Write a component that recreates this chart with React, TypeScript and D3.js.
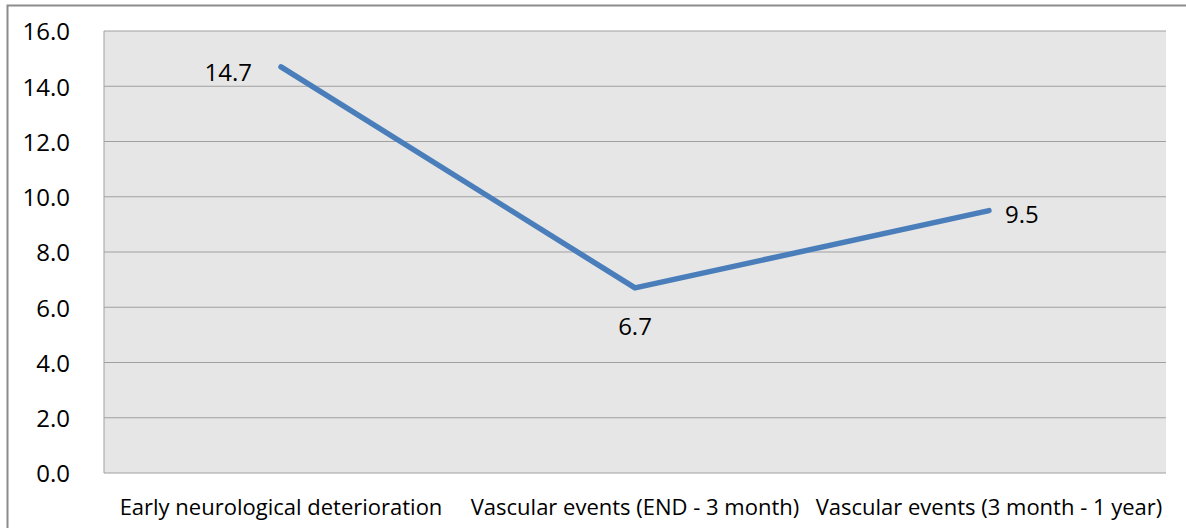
import React from "react";
import * as d3 from "d3";

const categories = [
  "Early neurological deterioration",
  "Vascular events (END - 3 month)",
  "Vascular events (3 month - 1 year)",
];
const values = [14.7, 6.7, 9.5];
const yTicks = [0, 2, 4, 6, 8, 10, 12, 14, 16];

const W = 1186;
const H = 528;
const M = { left: 104, top: 31, right: 1166, bottom: 473 };
const FONT = "'Open Sans', 'Noto Sans', sans-serif";

export default function App() {
  const x = d3
    .scaleBand<string>()
    .domain(categories)
    .range([M.left, M.right]);
  const y = d3.scaleLinear().domain([0, 16]).range([M.bottom, M.top]);
  const cx = (c: string) => (x(c) as number) + x.bandwidth() / 2;
  const line = d3
    .line<number>()
    .x((_, i) => cx(categories[i]))
    .y((d) => y(d));

  return (
    <svg
      width={W}
      height={H}
      style={{ position: "absolute", left: 0, top: 0, background: "#fff" }}
    >
      <rect x={7.5} y={5.5} width={W + 10} height={H + 10} fill="#fff" stroke="#8c8c8c" strokeWidth={2} />
      <rect
        x={M.left}
        y={M.top}
        width={M.right - M.left}
        height={M.bottom - M.top}
        fill="#e6e6e6"
      />
      {yTicks.map((t) => (
        <line
          key={t}
          x1={M.left}
          x2={M.right}
          y1={y(t)}
          y2={y(t)}
          stroke="#a0a0a0"
          strokeWidth={1}
        />
      ))}
      <line x1={M.left} x2={M.left} y1={M.top} y2={M.bottom} stroke="#a0a0a0" />
      {yTicks.map((t) => (
        <text
          key={t}
          x={70}
          y={y(t) + 1}
          dy="0.35em"
          textAnchor="end"
          fontFamily={FONT}
          fontSize={24}
          fill="#000"
        >
          {t.toFixed(1)}
        </text>
      ))}
      {categories.map((c) => (
        <text
          key={c}
          x={cx(c)}
          y={515}
          textAnchor="middle"
          fontFamily={FONT}
          fontSize={22}
          fill="#000"
        >
          {c}
        </text>
      ))}
      <path
        d={line(values) as string}
        fill="none"
        stroke="#4a7ebb"
        strokeWidth={5.5}
        strokeLinecap="round"
        strokeLinejoin="round"
      />
      <text
        x={cx(categories[0]) - 29}
        y={y(values[0]) + 6}
        dy="0.35em"
        textAnchor="end"
        fontFamily={FONT}
        fontSize={24}
      >
        {values[0].toFixed(1)}
      </text>
      <text
        x={cx(categories[1])}
        y={y(values[1]) + 47}
        textAnchor="middle"
        fontFamily={FONT}
        fontSize={24}
      >
        {values[1].toFixed(1)}
      </text>
      <text
        x={cx(categories[2]) + 16}
        y={y(values[2]) + 4}
        dy="0.35em"
        textAnchor="start"
        fontFamily={FONT}
        fontSize={24}
      >
        {values[2].toFixed(1)}
      </text>
    </svg>
  );
}
